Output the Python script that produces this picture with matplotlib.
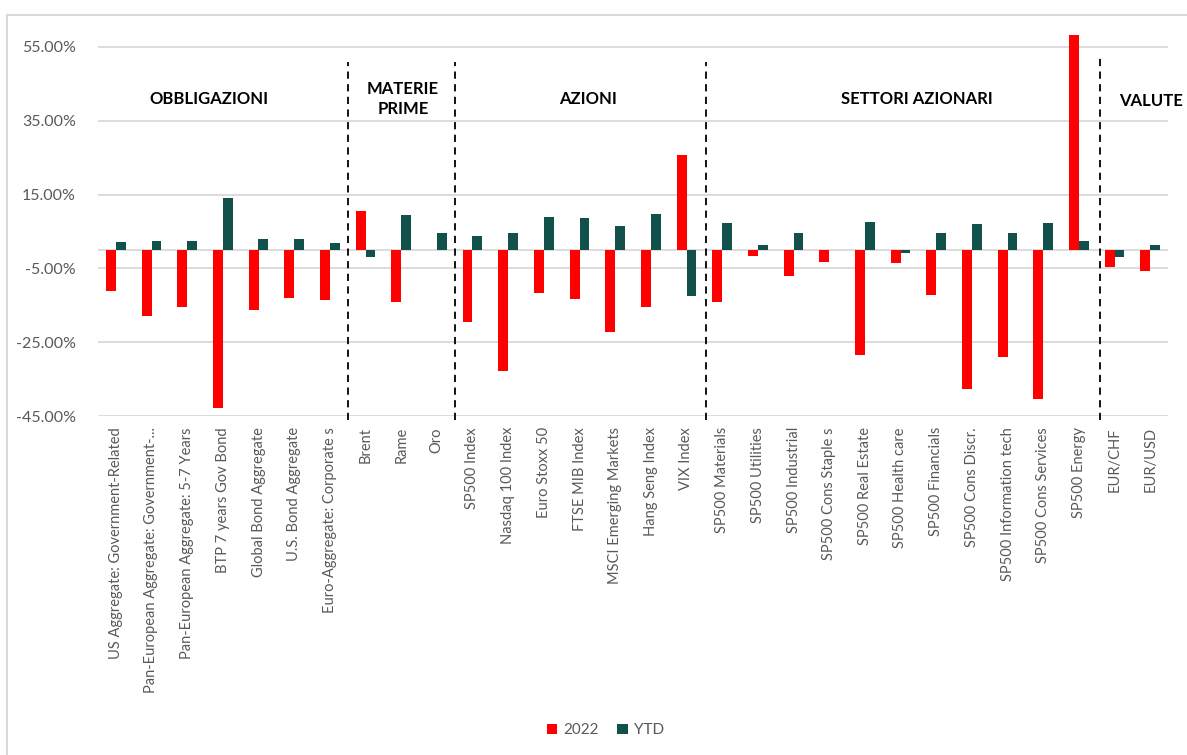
import matplotlib

matplotlib.use("Agg")

import matplotlib.pyplot as plt
import numpy as np
from matplotlib.patches import Rectangle

CATEGORIES = [
    "US Aggregate: Government-Related",
    "Pan-European Aggregate: Government-...",
    "Pan-European Aggregate: 5-7 Years",
    "BTP 7 years Gov Bond",
    "Global Bond Aggregate",
    "U.S. Bond Aggregate",
    "Euro-Aggregate: Corporate s",
    "Brent",
    "Rame",
    "Oro",
    "SP500 Index",
    "Nasdaq 100 Index",
    "Euro Stoxx 50",
    "FTSE MIB Index",
    "MSCI Emerging Markets",
    "Hang Seng Index",
    "VIX Index",
    "SP500 Materials",
    "SP500 Utilities",
    "SP500 Industrial",
    "SP500 Cons Staple s",
    "SP500 Real Estate",
    "SP500 Health care",
    "SP500 Financials",
    "SP500 Cons Discr.",
    "SP500 Information tech",
    "SP500 Cons Services",
    "SP500 Energy",
    "EUR/CHF",
    "EUR/USD",
]

VALUES_2022 = [
    -11.0, -18.0, -15.5, -42.8, -16.2, -13.0, -13.5,
    10.5, -14.0, 0.0,
    -19.6, -32.8, -11.8, -13.3, -22.3, -15.5, 25.7,
    -14.1, -1.6, -7.1, -3.4, -28.4, -3.6, -12.3, -37.6, -28.9, -40.4, 58.2,
    -4.5, -5.8,
]

VALUES_YTD = [
    2.2, 2.5, 2.5, 14.2, 3.0, 3.0, 1.9,
    -1.8, 9.4, 4.7,
    3.8, 4.7, 9.0, 8.7, 6.5, 9.8, -12.6,
    7.3, 1.4, 4.5, 0.0, 7.5, -0.7, 4.7, 7.0, 4.5, 7.3, 2.5,
    -2.0, 1.4,
]

GROUPS = ["OBBLIGAZIONI", "MATERIE\nPRIME", "AZIONI", "SETTORI AZIONARI"]
GROUP_X = [2.6, 8.05, 13.25, 22.45]
SEPARATORS = [6.5, 9.5, 16.55, 27.6]

RED = "#FF0000"
GREEN = "#11504B"
GRID = "#D9D9D9"
TEXT = "#595959"

plt.rcParams["font.family"] = ["Lato", "DejaVu Sans"]

fig = plt.figure(figsize=(11.87, 7.55), dpi=100)
fig.patches.append(Rectangle((0.006, -0.1), 1.2, 1.08, transform=fig.transFigure,
                             fill=False, edgecolor="#D9D9D9", linewidth=1.5))
ax = fig.add_axes([98 / 1187, 1 - 416 / 755, 1070 / 1187, (416 - 28.5) / 755])

x = np.arange(len(CATEGORIES))
w = 0.28
ax.bar(x - w / 2, VALUES_2022, width=w, color=RED, label="2022", zorder=3)
ax.bar(x + w / 2, VALUES_YTD, width=w, color=GREEN, label="YTD", zorder=3)

ax.set_xlim(-0.5, len(CATEGORIES) - 0.5)
ax.set_ylim(-45, 60)
ax.set_yticks([-45, -25, -5, 15, 35, 55])
ax.set_yticklabels([f"{v:.2f}%" for v in [-45, -25, -5, 15, 35, 55]], color=TEXT, fontsize=11.5)
for v in [-45, -25, -5, 15, 35, 55]:
    ax.axhline(v, color=GRID, linewidth=1.3, zorder=1)
ax.axhline(0, color=GRID, linewidth=1.3, zorder=2)

ax.set_xticks(x)
ax.set_xticklabels(CATEGORIES, rotation=90, color=TEXT, fontsize=10.5)
ax.tick_params(axis="both", length=0)
ax.tick_params(axis="x", pad=8)
ax.tick_params(axis="y", pad=16)
for spine in ax.spines.values():
    spine.set_visible(False)

tops = [51, 51, 51, 52]
for sx, top in zip(SEPARATORS, tops):
    ax.plot([sx, sx], [-46, top], color="black", linestyle=(0, (4, 3)), linewidth=1.3,
            zorder=4, clip_on=False)

for label, gx in zip(GROUPS, GROUP_X):
    ax.text(gx, 41, label, ha="center", va="center", fontsize=12, fontweight="bold",
            color="black", linespacing=1.3)

# last group label sits right against the chart edge
fig.text(0.997, 1 - 101 / 755, "VALUTE", ha="right", va="center", fontsize=12,
         fontweight="bold", color="black")

fig.legend(loc="lower center", bbox_to_anchor=(0.51, 0.005), ncol=2, frameon=False,
           fontsize=11, labelcolor=TEXT, handlelength=0.7, handleheight=0.7,
           handletextpad=0.4, columnspacing=1.2)

fig.savefig("out.png", dpi=100)
